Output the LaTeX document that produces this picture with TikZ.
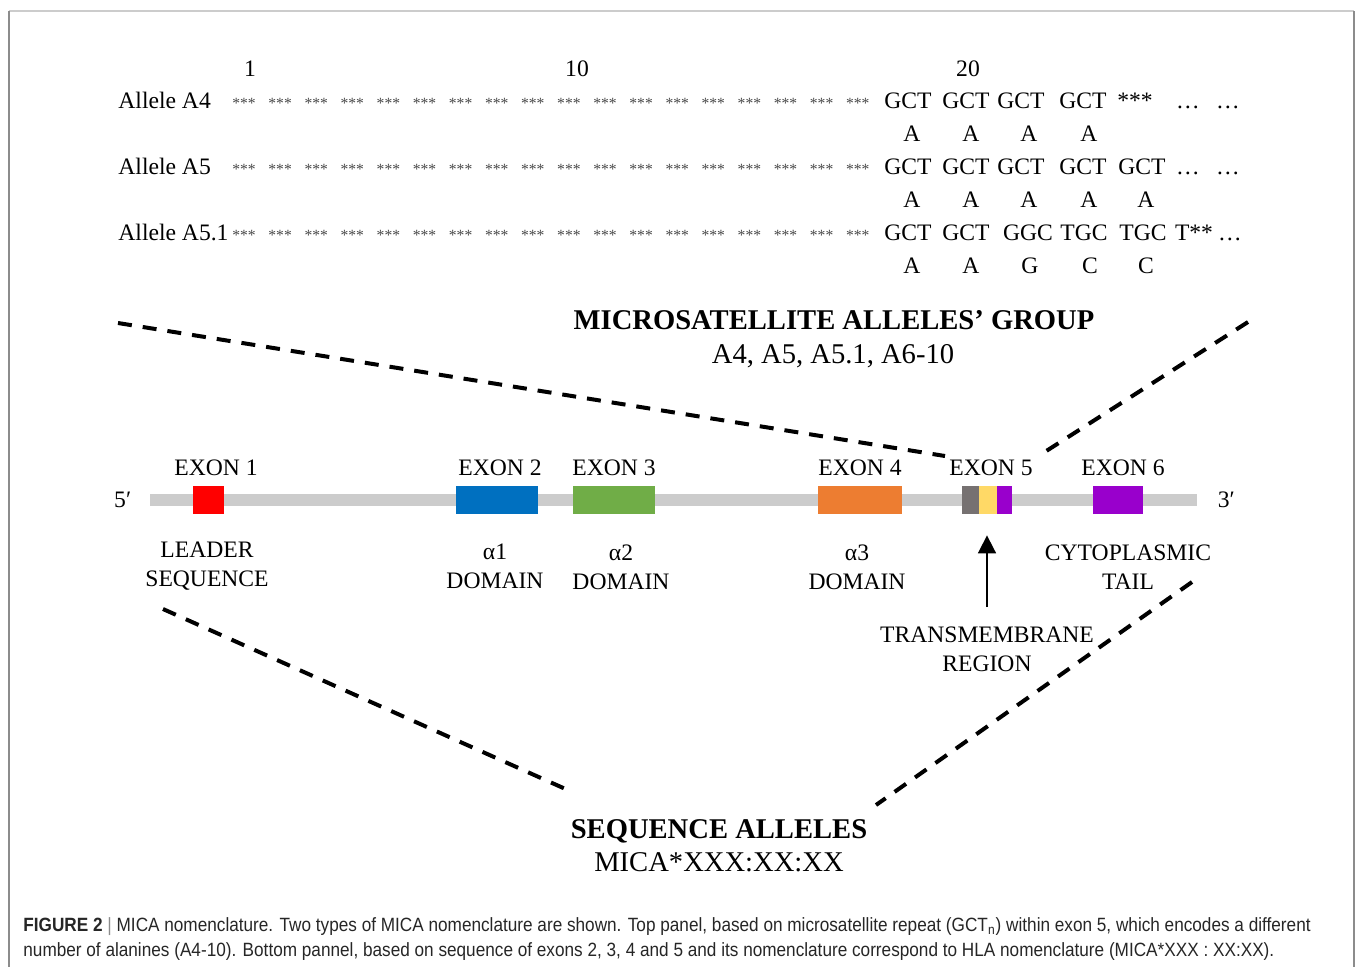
\documentclass[tikz,border=0pt]{standalone}
\usepackage{fontspec}
\setmainfont{Liberation Serif}
\newfontfamily\capfont[FakeStretch=0.895]{Liberation Sans}
\usetikzlibrary{positioning}
\usetikzlibrary{arrows.meta}

\definecolor{geneGray}{HTML}{CCCCCC}
\definecolor{exRed}{HTML}{FF0000}
\definecolor{exBlue}{HTML}{0070C0}
\definecolor{exGreen}{HTML}{70AD47}
\definecolor{exOrange}{HTML}{ED7D31}
\definecolor{exGray}{HTML}{767171}
\definecolor{exYellow}{HTML}{FFD966}
\definecolor{exPurple}{HTML}{9900CC}

\begin{document}
\begin{tikzpicture}[x=0.5pt, y=-0.5pt,
txt/.style={inner sep=0pt, anchor=base, font=\fontsize{11.8}{14.5}\selectfont},
stars/.style={inner sep=0pt, text=black!72, font=\fontsize{7.8}{8}\selectfont},
exon/.style={rectangle, inner sep=0pt, minimum height=14pt},
lbl/.style={inner sep=0pt, anchor=north, align=center, font=\fontsize{11.8}{14.5}\selectfont},
title/.style={inner sep=0pt, anchor=base, font=\fontsize{14.3}{17}\selectfont},
zoomline/.style={line width=2pt, dash pattern=on 7pt off 5.5pt},
capline/.style={inner sep=0pt, anchor=base west, text=black!85, font=\capfont\fontsize{9.6}{11}\selectfont},]

\useasboundingbox (0,0) rectangle (1355,966);
\draw[black!20, line width=1pt] (9,11) -- (1354,11);
\draw[black!45, line width=0.7pt] (9,11) -- (9,990);
\draw[black!45, line width=0.7pt] (1354,11) -- (1354,990);

\node[txt] (n1)  at (250,76) {1};
\node[txt] (n10) at (577,76) {10};
\node[txt] (n20) at (968,76) {20};

\node[txt, anchor=base west] (allA4)  at (118,108) {Allele A4};
\node[txt, anchor=base west] (allA5)  at (118,174) {Allele A5};
\node[txt, anchor=base west] (allA51) at (118,240) {Allele A5.1};

\foreach \i in {0,...,17} {
  \node[stars] (s1_\i) at (244+36.1*\i,103) {***};
  \node[stars] (s2_\i) at (244+36.1*\i,169) {***};
  \node[stars] (s3_\i) at (244+36.1*\i,235) {***};
}

\foreach \x/\t [count=\k] in {908/GCT, 966/GCT, 1021/GCT, 1083/GCT, 1135/***, 1188/…, 1228/…}
  \node[txt] (r1_\k) at (\x,108) {\t};
\foreach \x/\t [count=\k] in {912/A, 971/A, 1029/A, 1089/A}
  \node[txt] (a1_\k) at (\x,141) {\t};
\foreach \x/\t [count=\k] in {908/GCT, 966/GCT, 1021/GCT, 1083/GCT, 1142/GCT, 1188/…, 1228/…}
  \node[txt] (r2_\k) at (\x,174) {\t};
\foreach \x/\t [count=\k] in {912/A, 971/A, 1029/A, 1089/A, 1146/A}
  \node[txt] (a2_\k) at (\x,207) {\t};
\foreach \x/\t [count=\k] in {908/GCT, 966/GCT, 1028/GGC, 1084/TGC, 1143/TGC, 1194/T**, 1230/…}
  \node[txt] (r3_\k) at (\x,240) {\t};
\foreach \x/\t [count=\k] in {912/A, 971/A, 1030/G, 1090/C, 1146/C}
  \node[txt] (a3_\k) at (\x,273) {\t};

\node[title] (msTitle) at (834,329) {\textbf{MICROSATELLITE ALLELES’ GROUP}};
\node[title] (msList)  at (833,363) {A4, A5, A5.1, A6-10};

\node[rectangle, fill=geneGray, inner sep=0pt, minimum width=523.5pt, minimum height=6pt] (gene) at (673.5,500) {};
\node[inner sep=0pt, font=\fontsize{11.8}{14.5}\selectfont] (p5) [left=9pt of gene] {5′};
\node[inner sep=0pt, font=\fontsize{11.8}{14.5}\selectfont] (p3) [right=10pt of gene] {3′};

\node[exon, fill=exRed,    minimum width=15.5pt] (ex1)  at (208.5,500) {};
\node[exon, fill=exBlue,   minimum width=41pt]   (ex2)  at (497,500) {};
\node[exon, fill=exGreen,  minimum width=41pt]   (ex3)  at (614,500) {};
\node[exon, fill=exOrange, minimum width=42pt]   (ex4)  at (860,500) {};
\node[exon, fill=exGray,   minimum width=8.5pt]  (ex5a) at (970.5,500) {};
\node[exon, fill=exYellow, minimum width=9pt]    (ex5b) at (988,500) {};
\node[exon, fill=exPurple, minimum width=7.5pt]  (ex5c) at (1004.5,500) {};
\node[exon, fill=exPurple, minimum width=25pt]   (ex6)  at (1118,500) {};

\node[txt] (lx1) at (216,475)  {EXON 1};
\node[txt] (lx2) at (500,475)  {EXON 2};
\node[txt] (lx3) at (614,475)  {EXON 3};
\node[txt] (lx4) at (860,475)  {EXON 4};
\node[txt] (lx5) at (991,475)  {EXON 5};
\node[txt] (lx6) at (1123,475) {EXON 6};

\node[lbl] (leader) at (207,542)  {LEADER\\SEQUENCE};
\node[lbl] (dom1)   at (495,544)  {α1\\DOMAIN};
\node[lbl] (dom2)   at (621,544)  {α2\\DOMAIN};
\node[lbl] (dom3)   at (857,544)  {α3\\DOMAIN};
\node[lbl] (tail)   at (1128,544) {CYTOPLASMIC\\TAIL};
\node[lbl] (tm)     at (987,626)  {TRANSMEMBRANE\\REGION};

\draw[-{Triangle[width=9pt,length=9pt]}, line width=0.9pt, shorten <=9.5pt, shorten >=10.5pt] (tm.north) -- (tm.north |- ex5b.south);

\coordinate (zTL) at (118,323);
\coordinate (zTR) at (1248,322);
\coordinate (zT5a) at (945,456);
\coordinate (zT5b) at (1040,455);
\coordinate (zBL) at (163,609);
\coordinate (zBR) at (1192,582);
\coordinate (zSa) at (570,791);
\coordinate (zSb) at (876,805);

\draw[zoomline] (zTL) -- (zT5a);
\draw[zoomline] (zTR) -- (zT5b);
\draw[zoomline] (zBL) -- (zSa);
\draw[zoomline] (zBR) -- (zSb);

\node[title] (seqTitle) at (719,838) {\textbf{SEQUENCE ALLELES}};
\node[title] (seqName)  at (719,871) {MICA*XXX:XX:XX};

\node[capline] (cap1) at (23,931) {\textbf{FIGURE 2} {\color{black!45}|} MICA nomenclature. Two types of MICA nomenclature are shown. Top panel, based on microsatellite repeat (GCT\textsubscript{n}) within exon 5, which encodes a different};
\node[capline] (cap2) at (23,956) {number of alanines (A4-10). Bottom pannel, based on sequence of exons 2, 3, 4 and 5 and its nomenclature correspond to HLA nomenclature (MICA*XXX : XX:XX).};

\end{tikzpicture}
\end{document}
